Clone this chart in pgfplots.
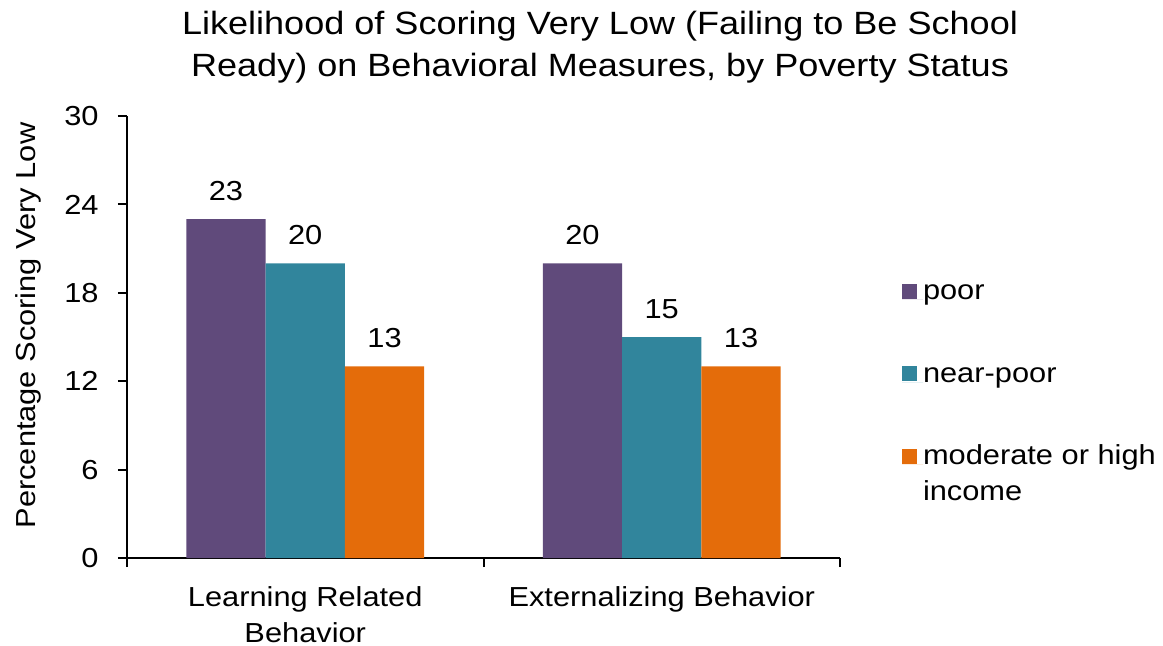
\documentclass[border=0pt]{standalone}
\usepackage{fontspec}
\setmainfont[FakeStretch=1.12]{Liberation Sans}
\usepackage{pgfplots}
\pgfplotsset{compat=1.18}

\definecolor{poorc}{HTML}{604A7B}
\definecolor{nearc}{HTML}{31859C}
\definecolor{modc}{HTML}{E46C0A}

\newcommand\lblfont{\fontsize{13.75}{18}\selectfont}
\newcommand\ttlfont{\fontsize{16.1}{21}\selectfont}
% two-line text whose baseline is that of its first line
\newcommand\twoline[3][l]{\begin{tabular}[t]{@{}#1@{}}#2\\#3\end{tabular}}

\pgfplotsset{
  sq legend/.style={
    legend image code/.code={
      \fill[##1] (0pt,0.5pt) rectangle (7.5pt,8pt);
      \path (0pt,0pt) -- (10.5pt,0pt);
    }
  }
}

\begin{document}
\begin{tikzpicture}
\useasboundingbox (0,0) rectangle (581.5pt,322.5pt);
\begin{axis}[
  at={(63.5pt,43.5pt)}, anchor=south west,
  scale only axis, width=356.5pt, height=221pt,
  ybar=0pt, bar width=39.65pt,
  xmin=-0.5, xmax=1.5, ymin=0, ymax=30,
  axis lines*=left,
  axis line style={-, line width=1pt, black},
  tick align=outside, major tick length=4.5pt,
  tick style={line width=1pt, black},
  ytick={0,6,...,30},
  minor tick num=0,
  xtick={-0.5,0.5,1.5}, xticklabels={,,},
  extra x ticks={0,1},
  extra x tick labels={{\twoline[c]{Learning Related}{Behavior}},{Externalizing Behavior}},
  extra x tick style={major tick length=0pt},
  /pgf/number format/assume math mode=true,
  tick label style={font=\lblfont},
  yticklabel style={anchor=east, inner sep=0pt, xshift=-9.5pt},
  xticklabel style={anchor=base, inner sep=0pt, yshift=-24pt},
  nodes near coords,
  every node near coord/.append style={font=\lblfont, inner sep=0pt, anchor=south, yshift=9pt},
  title={\twoline[c]{Likelihood of Scoring Very Low (Failing to Be School}{Ready) on Behavioral Measures, by Poverty Status}},
  every axis title/.style={at={(axis description cs:0.6634,1.18552)}, anchor=base, inner sep=0pt, font=\ttlfont},
  ylabel={Percentage Scoring Very Low},
  every axis y label/.style={at={(axis description cs:-0.12903,0.526)}, rotate=90, anchor=base, inner sep=0pt, font=\lblfont},
  every axis plot post/.append style={sq legend},
  legend style={at={(axis description cs:1.08696,0.63009)}, anchor=north west,
    draw=none, fill=none, inner sep=0pt, outer sep=0pt, row sep=28.25pt, font=\lblfont,
    nodes={inner sep=0pt, text height=10pt, text depth=3pt},
    cells={anchor=base west}},
]
\addplot[fill=poorc, draw=none] coordinates {(0,23) (1,20)};
\addplot[fill=nearc, draw=none] coordinates {(0,20) (1,15)};
\addplot[fill=modc, draw=none] coordinates {(0,13) (1,13)};
\legend{poor, near-poor, {\twoline{moderate or high}{income}}}
\end{axis}
\end{tikzpicture}
\end{document}
